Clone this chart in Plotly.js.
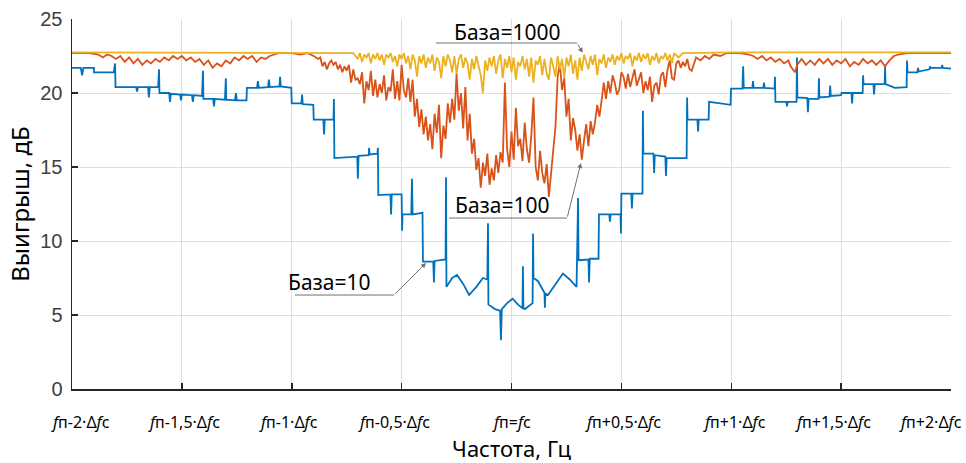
<!DOCTYPE html>
<html><head><meta charset="utf-8">
<script src="https://cdn.plot.ly/plotly-3.0.1.min.js"></script>
<style>html,body{margin:0;padding:0;background:#fff}#chart{width:966px;height:463px}</style>
</head><body><div id="chart"></div>
<script>
// x in units of 0.01·Δfc relative to fп ; y in dB
const tickVals = [-200,-150,-100,-50,0,50,100,150,200];
const tickLabels = [
  "<i>f</i>п-2·Δ<i>f</i>c","<i>f</i>п-1,5·Δ<i>f</i>c","<i>f</i>п-1·Δ<i>f</i>c",
  "<i>f</i>п-0,5·Δ<i>f</i>c","<i>f</i>п=<i>f</i>c","<i>f</i>п+0,5·Δ<i>f</i>c",
  "<i>f</i>п+1·Δ<i>f</i>c","<i>f</i>п+1,5·Δ<i>f</i>c","<i>f</i>п+2·Δ<i>f</i>c"];
const tickLabelShift = [8,2,-3,-8,0,2,3,-8,-21];
const yTickVals = [0,5,10,15,20,25];

const seriesNames = ["База=10","База=100","База=1000"];

const base10Points = [
[-200,21.7],[-196,21.7],[-195.4,21.2],[-194.8,21.7],[-190,21.7],[-190,21.4],[-181,21.4],[-180.4,22.0],[-180.2,20.4],
[-170.8,20.4],[-170.4,20.1],[-170,20.4],[-165.4,20.4],[-165,19.7],[-164.6,20.4],[-160.8,20.4],[-160.4,21.6],[-160.2,20.0],
[-155.8,20.0],[-155.4,19.4],[-155,19.95],[-150.8,19.9],[-150.4,19.5],[-150,19.9],[-145.4,19.85],[-145,19.4],[-144.6,19.85],
[-140.8,19.8],[-140.4,21.5],[-140.2,19.6],[-135.8,19.6],[-135.4,19.1],[-135,19.6],[-130.4,19.55],[-130,21.0],[-129.8,19.55],
[-125.8,19.5],[-125.4,20.0],[-125,19.5],[-120.6,19.5],[-120.4,20.35],[-115.8,20.35],[-115.4,20.8],[-115,20.35],
[-110.8,20.4],[-110.4,20.9],[-110,20.4],[-105.6,20.45],[-105.3,21.1],[-105,20.45],[-100.2,20.35],[-100,19.3],
[-95.6,19.3],[-95.3,19.9],[-95,19.25],[-90.2,19.2],[-90,18.2],[-85.6,18.2],[-85.3,17.2],[-85,18.2],[-81,18.2],[-80.8,19.6],[-80.6,15.6],
[-70.2,15.7],[-69.9,14.2],[-69.6,15.75],[-65,15.8],[-64.8,16.3],[-64.6,15.85],[-61,15.9],[-60.8,16.3],[-60.6,13.1],
[-55.1,13.15],[-54.8,11.8],[-54.5,13.15],[-50,13.15],[-49.8,10.7],[-49.6,11.8],[-45.6,11.8],[-45.3,14.2],[-45,11.8],
[-40.5,11.9],[-40.3,8.6],[-35.6,8.6],[-35.3,7.2],[-35,8.65],[-30,8.75],[-29.8,14.3],[-29.6,6.9],[-27,7.5],[-24.8,7.7],[-22,7.1],
[-19.3,6.35],[-16,6.9],[-13,7.5],[-11,7.4],[-10.7,11.2],[-10.5,5.7],[-7.5,5.4],[-5.2,5.3],[-4.8,3.3],[-4.4,5.4],[-2,5.8],[0.5,6.1],[3,5.7],
[5,5.45],[5.2,8.3],[5.4,5.45],[6.1,5.4],[8,5.6],[9.6,5.8],[9.8,10.5],[10,7.5],[12,7.3],[15,6.5],[15.2,5.5],[15.4,6.45],[16.6,6.35],
[20,7.1],[23.4,7.8],[26.5,7.4],[29.6,6.9],[30.3,12.9],[30.5,8.7],[35,8.75],[35.3,7.2],[35.6,8.8],[39.6,8.8],[39.8,11.8],
[44.5,11.8],[44.8,11.3],[45.1,11.8],[49.6,11.8],[49.8,10.5],[50,13.2],[54.5,13.2],[54.8,12.2],[55.1,13.2],[59.6,13.2],[59.8,18.8],[60,15.9],
[64.6,15.9],[64.9,14.6],[65.2,15.8],[70,15.7],[70.3,14.4],[70.6,15.6],[79.7,15.6],[79.9,19.7],[80.1,18.2],[84.6,18.2],[84.9,17.4],[85.2,18.2],
[89.7,18.2],[89.9,19.4],[99.7,19.2],[99.9,20.3],[105.1,20.3],[105.4,21.8],[105.7,20.35],[109.6,20.35],[109.9,20.8],[110.2,20.35],
[114.6,20.35],[114.9,20.7],[115.2,20.35],[119.7,20.3],[119.9,21.1],[120.1,19.4],[125.1,19.4],[125.4,19.1],[125.7,19.4],
[129.7,19.4],[129.9,22.4],[130.1,19.7],[134.6,19.65],[134.9,18.7],[135.2,19.6],[139.7,19.6],[139.9,21.0],[140.1,19.7],
[144.7,19.75],[145,20.5],[145.3,19.8],[150,19.85],[150.2,20.0],[154.7,20.0],[155,19.3],[155.3,20.0],[159.8,20.0],[160,21.2],[160.2,20.6],
[164.7,20.6],[165,19.9],[165.3,20.6],[169.8,20.6],[170,21.8],[170.2,20.6],[174.5,20.35],[179.8,20.4],[180,22.2],[180.2,21.4],
[184.7,21.4],[185,21.7],[185.3,21.45],[190.2,21.6],[190.5,21.8],[190.8,21.7],[195.7,21.7],[196,21.9],[196.3,21.7],[200,21.65]
];

const base100Points = [
[-200,22.7],[-192,22.7],[-188,22.6],[-186,22.4],[-184,22.6],[-182,22.5],[-180,22.3],[-178,22.5],[-176,22.1],[-174,22.4],
[-172,22.0],[-170,22.3],[-168,21.9],[-166,22.2],[-164,22.0],[-162,22.3],[-160,22.1],[-158,22.4],[-156,22.2],[-154,22.5],
[-152,22.3],[-150,22.5],[-148,22.2],[-146,22.4],[-144,22.1],[-142,22.3],[-140,21.9],[-138,22.2],[-136,21.7],[-134,22.0],
[-132,21.8],[-130,22.2],[-128,22.0],[-126,22.4],[-124,22.2],[-122,22.5],[-120,22.3],[-118,22.5],[-116,22.1],[-114,22.4],
[-112,22.3],[-110,22.5],[-108,22.6],[-106,22.7],[-102,22.7],[-100,22.7],[-96,22.6],[-93,22.7],[-90,22.5],[-88,22.3],[-87,22.4],
[-86,21.8],[-85,22.1],[-84,21.6],[-83,22.0],[-82,22.2],[-81,21.9],[-80,22.1],[-79,21.6],[-78,21.9],[-77,21.4],[-76,21.8],
[-75,21.5],[-74,21.9],[-73,20.7],[-72,21.6],[-71,20.9],
[-70,21.0],[-69,20.6],[-68,21.4],[-67,19.3],[-66,20.8],[-65,20.2],[-64,21.5],[-63,19.8],[-62,20.9],[-61,19.7],
[-60,20.6],[-59,20.0],[-58,21.2],[-57,19.5],[-56,20.4],[-55,20.1],[-54,21.6],[-53,19.6],[-52,20.8],[-51,19.5],
[-50,21.9],[-49,20.2],[-48,19.7],[-47,21.0],[-46,19.4],[-45,20.9],[-44,18.4],[-43,19.6],[-42,17.7],[-41,18.9],
[-40,17.2],[-39,18.4],[-38,16.8],[-37,17.9],[-36,16.2],[-35,18.6],[-34,17.3],[-33,19.2],[-32,15.6],[-31,17.8],
[-30,16.9],[-29,19.3],[-28,18.0],[-27,19.6],[-26,18.2],[-25,21.3],[-24,18.8],[-23,20.0],[-22,17.6],[-21,20.4],
[-20,16.8],[-19,18.6],[-18,15.9],[-17,16.9],[-16,14.8],[-15,15.6],[-14,13.6],[-13,15.3],[-12,14.4],[-11,15.9],
[-10,13.8],[-9,14.9],[-8,14.1],[-7,15.8],[-6,14.6],[-5,16.0],[-4,15.3],[-3,20.7],[-2,16.2],[-1,15.0],
[0,17.4],[1,15.5],[2,19.0],[3,16.4],[4,16.9],[5,15.4],[6,18.0],[7,16.2],[8,15.3],[9,17.1],
[10,19.7],[11,15.0],[12,14.1],[13,16.1],[14,14.6],[15,13.9],[16,15.2],[17,13.0],[18,14.6],[19,16.0],
[20,17.7],[21,21.1],[22,22.0],[23,20.2],[24,21.0],[25,18.4],[26,19.6],[27,16.8],[28,18.3],[29,17.5],
[30,16.1],[31,17.2],[32,15.5],[33,16.8],[34,17.9],[35,16.4],[36,18.1],[37,17.2],[38,18.0],[39,19.2],
[40,18.4],[41,19.5],[42,20.7],[43,19.6],[44,20.8],[45,20.0],[46,21.2],[47,20.7],[48,19.9],[49,20.2],
[50,21.4],[51,21.1],[52,20.3],[53,21.3],[54,20.4],[55,21.0],[56,21.6],[57,20.5],[58,20.9],[59,21.4],
[60,20.0],[61,20.8],[62,20.2],[63,21.1],[64,19.4],[65,20.5],[66,20.7],[67,19.9],[68,21.2],[69,21.4],
[70,20.4],[71,21.6],[72,22.2],[73,21.0],[74,20.9],[75,22.0],[76,22.2],[77,21.7],[78,22.1],[79,21.8],
[80,22.3],[81,21.6],[82,21.5],[83,22.0],[84,22.4],[86,22.2],[88,22.5],[90,22.3],[92,22.6],[95,22.5],[98,22.7],
[100,22.7],[104,22.7],[108,22.6],[110,22.5],[112,22.3],[114,22.5],[116,22.2],[118,22.4],[120,22.1],[122,22.3],
[124,22.0],[126,22.2],[127,21.8],[128,21.6],[129,21.4],[130,21.9],[132,22.3],[134,21.9],[136,22.2],[138,21.9],
[140,22.3],[142,22.0],[144,22.3],[146,21.9],[148,22.2],[150,22.0],[152,22.3],[154,21.8],[156,22.1],[158,21.9],
[160,22.3],[162,22.0],[164,22.2],[166,21.9],[168,22.2],[170,21.8],[172,22.2],[174,22.5],[176,22.6],[180,22.7],[200,22.7]
];

const base1000Points = [
[-200,22.75],[-100,22.75],[-76,22.7],[-72,22.7],[-70,22.3],[-69,22.7],[-68,22.1],[-67,22.6],[-66,22.4],[-65,22.7],[-64,22.0],
[-63,22.6],[-62,22.3],[-61,22.7],[-60,22.2],[-59,22.6],[-58,21.9],[-57,22.6],[-56,22.4],[-55,22.7],[-54,22.1],[-53,22.5],
[-52,21.8],[-51,22.6],[-50,22.3],[-49,22.7],[-48,22.0],[-47,22.5],[-46,21.6],[-45,22.6],[-44,22.2],[-43,21.1],[-42,22.5],
[-41,22.0],[-40,22.6],[-39,21.7],[-38,22.4],[-37,22.0],[-36,22.6],[-35,21.5],[-34,22.4],[-33,22.1],[-32,21.0],[-31,22.5],
[-30,21.8],[-29,22.6],[-28,22.2],[-27,21.4],[-26,22.5],[-25,21.3],[-24,22.3],[-23,22.6],[-22,21.7],[-21,22.4],[-20,22.0],
[-19,20.9],[-18,22.3],[-17,21.6],[-16,22.5],[-15,21.9],[-14,21.2],[-13,20.0],[-12,22.2],[-11,21.5],[-10,22.4],[-9,21.8],
[-8,22.5],[-7,21.3],[-6,22.2],[-5,22.6],[-4,21.0],[-3,22.3],[-2,21.7],[-1,22.5],[0,21.4],[1,22.4],[2,20.9],[3,22.1],
[4,21.8],[5,22.5],[6,21.6],[7,22.3],[8,21.1],[9,22.4],[10,20.7],[11,22.2],[12,21.9],[13,22.5],[14,21.2],[15,22.3],
[16,21.3],[17,20.9],[18,22.4],[19,21.8],[20,21.1],[21,22.5],[22,21.6],[23,22.3],[24,21.0],[25,22.4],[26,21.8],[27,22.6],
[28,21.3],[29,22.2],[30,20.9],[31,22.4],[32,21.5],[33,22.6],[34,22.0],[35,21.6],[36,22.5],[37,21.9],[38,22.6],[39,21.2],
[40,22.3],[41,22.0],[42,22.6],[43,21.7],[44,22.4],[45,22.1],[46,22.6],[47,21.9],[48,22.5],[49,22.2],[50,22.7],[51,22.0],
[52,22.5],[53,22.3],[54,22.7],[55,21.8],[56,22.5],[57,22.2],[58,22.7],[59,22.1],[60,22.6],[61,22.3],[62,22.7],[63,21.9],
[64,22.5],[65,22.2],[66,22.7],[67,22.0],[68,22.5],[69,22.3],[70,22.7],[71,22.2],[72,22.6],[73,22.0],[74,22.7],[76,22.4],
[78,22.7],[100,22.75],[200,22.75]
];

const colors = ["#0072BD","#D95319","#EDB120"];
const allPoints = [base10Points, base100Points, base1000Points];

const traces = allPoints.map((pts,i)=>({
  type:'scatter', mode:'lines', name:seriesNames[i],
  x: pts.map(p=>p[0]), y: pts.map(p=>p[1]),
  line:{color:colors[i], width:1.8}, hoverinfo:'skip'
}));

// annotation label positions (data coords)
const labelPos = [ [-82.6,7.25], [-3.9,12.4], [-2,24.15] ];
const underline = [ [-98.5,-53.5,6.35], [-28.4,25.3,11.55], [-34.4,29.8,23.38] ];
const arrowTip = [ [-38.9,8.51], [31.6,15.27], [32.4,22.72] ];

const annotations = [];
const shapes = [];
for (let i=0;i<3;i++){
  annotations.push({x:labelPos[i][0], y:labelPos[i][1], xref:'x', yref:'y', text:seriesNames[i],
    showarrow:false, font:{family:'Noto Sans', size:21, color:'#000'}});
  shapes.push({type:'line', xref:'x', yref:'y', x0:underline[i][0], x1:underline[i][1], y0:underline[i][2], y1:underline[i][2],
    line:{color:'#707070', width:1}});
  annotations.push({x:arrowTip[i][0], y:arrowTip[i][1], xref:'x', yref:'y', axref:'x', ayref:'y',
    ax:underline[i][1], ay:underline[i][2], text:'', showarrow:true, arrowhead:2, arrowsize:1, arrowwidth:1, arrowcolor:'#707070'});
}
tickVals.forEach((v,i)=>{
  annotations.push({x:v, y:0, xref:'x', yref:'paper', yanchor:'middle', yshift:-33, xshift:tickLabelShift[i],
    text:tickLabels[i], showarrow:false, font:{family:'Noto Sans', size:16, color:'#000'}});
});

const layout = {
  width:966, height:463,
  margin:{l:72, r:15, t:19, b:74},
  paper_bgcolor:'#fff', plot_bgcolor:'#fff',
  showlegend:false,
  font:{family:'Liberation Sans, Arial, sans-serif', color:'#404040'},
  xaxis:{range:[-200,200], tickvals:tickVals, showticklabels:false, showgrid:true, gridcolor:'#dedede', gridwidth:1,
    zeroline:false, showline:true, linecolor:'#262626', linewidth:1.5, ticks:'inside', ticklen:6, tickcolor:'#262626', tickwidth:1.5,
    title:{text:'Частота, Гц', font:{family:'Noto Sans', size:22, color:'#000'}, standoff:52}},
  yaxis:{range:[0,25], tickvals:yTickVals, showgrid:true, gridcolor:'#dedede', gridwidth:1,
    zeroline:false, showline:true, linecolor:'#262626', linewidth:1.5, ticks:'inside', ticklen:6, tickcolor:'#262626', tickwidth:1.5,
    tickfont:{size:20, color:'#404040'}, ticklabelstandoff:4,
    title:{text:'Выигрыш, дБ', font:{family:'Noto Sans', size:24, color:'#000'}, standoff:4}},
  annotations:annotations, shapes:shapes
};

Plotly.newPlot('chart', traces, layout, {displayModeBar:false, staticPlot:true});
</script>
</body></html>
